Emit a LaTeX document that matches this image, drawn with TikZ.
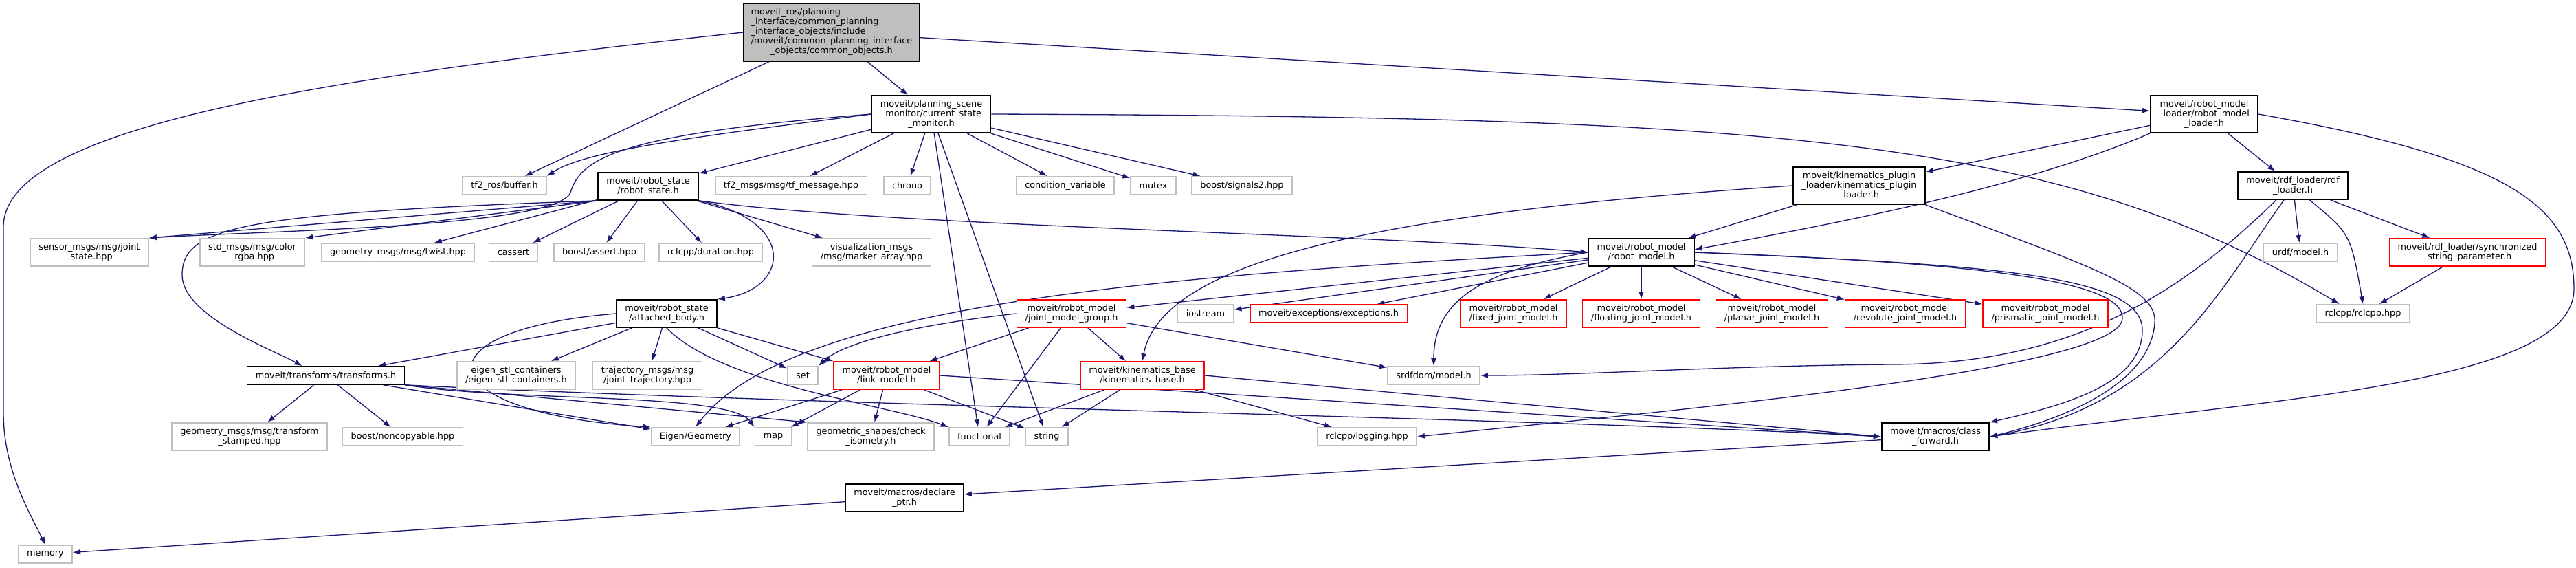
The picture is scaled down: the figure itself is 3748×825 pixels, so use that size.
\documentclass[tikz,border=0pt]{standalone}
\usepackage{fontspec}
\setmainfont{DejaVu Sans}
\usepackage{tikz}
\usetikzlibrary{arrows.meta,calc}
\definecolor{edgeblue}{RGB}{25,25,112}
\definecolor{boxgray}{RGB}{191,191,191}
\definecolor{truncred}{RGB}{255,0,0}
\pgfdeclarelayer{edges}
\pgfsetlayers{edges,main}

\begin{document}
\begin{tikzpicture}[x=0.02cm, y=-0.02cm]
    \tikzstyle{box}=[draw, align=center, inner xsep=7pt, inner ysep=3.8pt, minimum height=14.8pt, font=\fontsize{7.3}{8}\selectfont]
    \tikzstyle{docbox}=[box, draw=black, line width=0.9pt, fill=white]
    \tikzstyle{extbox}=[box, draw=boxgray, line width=1pt, fill=white]
    \tikzstyle{truncbox}=[box, draw=truncred, line width=0.9pt, fill=white]
    \tikzstyle{dep}=[draw=edgeblue, line width=0.75pt, -{Latex[length=6.3pt,width=4.6pt]}]
    \useasboundingbox (0,0) rectangle (3748,825);

    \node[docbox, fill=boxgray, inner xsep=6pt] (root) at (1210,47) {\begin{tabular}{@{}l@{}}moveit\_ros/planning\\\_interface/common\_planning\\\_interface\_objects/include\\/moveit/common\_planning\_interface\\\multicolumn{1}{@{}c@{}}{\_objects/common\_objects.h}\end{tabular}};
    \node[docbox] (csm) at (1355,166) {moveit/planning\_scene\\\_monitor/current\_state\\\_monitor.h};
    \node[docbox] (rml) at (3207,166) {moveit/robot\_model\\\_loader/robot\_model\\\_loader.h};

    \node[extbox] (buffer) at (734,270) {tf2\_ros/buffer.h};
    \node[docbox] (robstate) at (943,271) {moveit/robot\_state\\/robot\_state.h};
    \node[extbox] (tfmsg) at (1151,270) {tf2\_msgs/msg/tf\_message.hpp};
    \node[extbox] (chrono) at (1320,270) {chrono};
    \node[extbox] (condvar) at (1550,270) {condition\_variable};
    \node[extbox] (mutex) at (1678,270) {mutex};
    \node[extbox] (signals) at (1807,270) {boost/signals2.hpp};
    \node[docbox] (kpl) at (2705,270) {moveit/kinematics\_plugin\\\_loader/kinematics\_plugin\\\_loader.h};
    \node[docbox] (rdfl) at (3336,270) {moveit/rdf\_loader/rdf\\\_loader.h};

    \node[extbox] (jointstate) at (130,367) {sensor\_msgs/msg/joint\\\_state.hpp};
    \node[extbox] (colorrgba) at (367,367) {std\_msgs/msg/color\\\_rgba.hpp};
    \node[extbox] (twist) at (579,367) {geometry\_msgs/msg/twist.hpp};
    \node[extbox] (cassert) at (747,367) {cassert};
    \node[extbox] (bassert) at (872,367) {boost/assert.hpp};
    \node[extbox] (duration) at (1034,367) {rclcpp/duration.hpp};
    \node[extbox] (marker) at (1268,367) {visualization\_msgs\\/msg/marker\_array.hpp};
    \node[docbox] (robmodel) at (2388,367) {moveit/robot\_model\\/robot\_model.h};
    \node[extbox] (urdf) at (3347,367) {urdf/model.h};
    \node[truncbox] (sync) at (3590,367) {moveit/rdf\_loader/synchronized\\\_string\_parameter.h};

    \node[docbox] (attached) at (970,456) {moveit/robot\_state\\/attached\_body.h};
    \node[truncbox] (jmg) at (1559,456) {moveit/robot\_model\\/joint\_model\_group.h};
    \node[extbox] (iostream) at (1754,456) {iostream};
    \node[truncbox] (exceptions) at (1933,456) {moveit/exceptions/exceptions.h};
    \node[truncbox] (fixed) at (2202,456) {moveit/robot\_model\\/fixed\_joint\_model.h};
    \node[truncbox] (floating) at (2388,456) {moveit/robot\_model\\/floating\_joint\_model.h};
    \node[truncbox] (planar) at (2578,456) {moveit/robot\_model\\/planar\_joint\_model.h};
    \node[truncbox] (revolute) at (2772,456) {moveit/robot\_model\\/revolute\_joint\_model.h};
    \node[truncbox] (prismatic) at (2976,456) {moveit/robot\_model\\/prismatic\_joint\_model.h};
    \node[extbox] (rclcpp) at (3438,456) {rclcpp/rclcpp.hpp};

    \node[docbox] (transforms) at (474,546) {moveit/transforms/transforms.h};
    \node[extbox] (eigenstl) at (751,546) {eigen\_stl\_containers\\/eigen\_stl\_containers.h};
    \node[extbox] (trajectory) at (942,546) {trajectory\_msgs/msg\\/joint\_trajectory.hpp};
    \node[extbox] (set) at (1168,546) {set};
    \node[truncbox] (linkmodel) at (1290,546) {moveit/robot\_model\\/link\_model.h};
    \node[truncbox] (kinbase) at (1662,546) {moveit/kinematics\_base\\/kinematics\_base.h};
    \node[extbox] (srdf) at (2086,546) {srdfdom/model.h};

    \node[extbox] (stamped) at (363,635) {geometry\_msgs/msg/transform\\\_stamped.hpp};
    \node[extbox] (noncopy) at (586,635) {boost/noncopyable.hpp};
    \node[extbox] (eigengeom) at (1012,635) {Eigen/Geometry};
    \node[extbox] (map) at (1125,635) {map};
    \node[extbox] (checkiso) at (1267,635) {geometric\_shapes/check\\\_isometry.h};
    \node[extbox] (functional) at (1425,635) {functional};
    \node[extbox] (string) at (1523,635) {string};
    \node[extbox] (logging) at (1989,635) {rclcpp/logging.hpp};
    \node[docbox] (classfwd) at (2816,635) {moveit/macros/class\\\_forward.h};

    \node[docbox] (declare) at (1316,724) {moveit/macros/declare\\\_ptr.h};
    \node[extbox] (memory) at (66,806) {memory};

    \begin{pgfonlayer}{edges}
    \draw[dep] (root.west) .. controls (500,110) and (5,180) .. (5,330) -- (5,600) .. controls (5,680) and (40,740) .. (memory.north);
    \draw[dep] (root) -- (buffer);
    \draw[dep] (root) -- (csm);
    \draw[dep] (root) -- (rml);

    \draw[dep] (csm) -- (robstate);
    \draw[dep] (csm.west) .. controls (1000,200) and (850,220) .. (buffer.north east);
    \draw[dep] (csm.west) .. controls (900,195) and (845,230) .. (830,280) .. controls (810,330) and (400,335) .. (jointstate.north east);
    \draw[dep] (csm) -- (tfmsg);
    \draw[dep] (csm) -- (chrono);
    \draw[dep] (csm) -- (condvar);
    \draw[dep] (csm) -- (mutex);
    \draw[dep] (csm) -- (signals);
    \draw[dep] (csm) -- (functional);
    \draw[dep] (csm) -- (string);
    \draw[dep] (csm.east) .. controls (2600,170) and (3000,200) .. ($(rclcpp.north west)!0.25!(rclcpp.north east)$);

    \draw[dep] (robstate.south east) .. controls (1300,330) and (2000,340) .. (robmodel.west);
    \draw[dep] (robstate.south east) .. controls (1160,320) and (1150,420) .. (attached.north east);
    \draw[dep] (robstate.south west) -- (jointstate.north east);
    \draw[dep] (robstate.south west) -- (colorrgba.north east);
    \draw[dep] (robstate) -- (twist);
    \draw[dep] (robstate) -- (cassert);
    \draw[dep] (robstate) -- (bassert);
    \draw[dep] (robstate) -- (duration);
    \draw[dep] (robstate) -- (marker);
    \draw[dep] (robstate.south west) .. controls (350,310) and (265,330) .. (265,400) .. controls (265,460) and (400,510) .. ($(transforms.north west)!0.35!(transforms.north east)$);

    \draw[dep] (attached) -- (transforms);
    \draw[dep] (attached) -- (eigenstl);
    \draw[dep] (attached) -- (trajectory);
    \draw[dep] (attached) -- (set);
    \draw[dep] (attached.south east) -- (linkmodel.north west);
    \draw[dep] (attached.south) .. controls (1050,560) and (1300,590) .. (functional.north west);
    \draw[dep] (attached.west) .. controls (600,480) and (620,600) .. (eigengeom.north west);

    \draw[dep] (transforms) -- (stamped);
    \draw[dep] (transforms) -- (noncopy);
    \draw[dep] (transforms) -- (eigengeom);
    \draw[dep] (transforms.south east) .. controls (750,585) and (1060,570) .. (map.north west);
    \draw[dep] (transforms.south east) -- (checkiso.north west);
    \draw[dep] (transforms.south east) .. controls (1200,590) and (2300,610) .. (classfwd.west);

    \draw[dep] (robmodel.west) .. controls (1700,400) and (1150,440) .. (eigengeom.north);
    \draw[dep] (robmodel) -- (jmg);
    \draw[dep] (robmodel) -- (iostream);
    \draw[dep] (robmodel) -- (exceptions);
    \draw[dep] (robmodel.west) .. controls (2150,395) and (2086,440) .. (srdf.north);
    \draw[dep] (robmodel) -- (fixed);
    \draw[dep] (robmodel) -- (floating);
    \draw[dep] (robmodel) -- (planar);
    \draw[dep] (robmodel) -- (revolute);
    \draw[dep] (robmodel) -- (prismatic);
    \draw[dep] (robmodel.east) .. controls (2900,385) and (3117,400) .. (3117,480) .. controls (3117,560) and (3000,590) .. (classfwd.north east);
    \draw[dep] (robmodel.east) .. controls (2900,383) and (3090,410) .. (3088,463) .. controls (3085,540) and (2400,600) .. (logging.east);

    \draw[dep] (jmg.west) .. controls (1350,470) and (1230,495) .. (set.north east);
    \draw[dep] (jmg) -- (linkmodel);
    \draw[dep] (jmg) -- (functional);
    \draw[dep] (jmg) -- (kinbase);
    \draw[dep] (jmg) -- (srdf);

    \draw[dep] (linkmodel) -- (eigengeom);
    \draw[dep] (linkmodel) -- (map);
    \draw[dep] (linkmodel) -- (checkiso);
    \draw[dep] (linkmodel) -- (string);
    \draw[dep] (linkmodel.east) -- (classfwd.west);

    \draw[dep] (kinbase) -- (functional);
    \draw[dep] (kinbase) -- (string);
    \draw[dep] (kinbase) -- (logging);
    \draw[dep] (kinbase.east) -- (classfwd.west);

    \draw[dep] (rml.south west) .. controls (2950,270) and (2700,320) .. ($(robmodel.north east)!0.4!(robmodel.south east)$);
    \draw[dep] (rml) -- (kpl);
    \draw[dep] (rml) -- (rdfl);
    \draw[dep] (rml.east) .. controls (3650,230) and (3745,300) .. (3745,420) .. controls (3745,560) and (3300,580) .. (classfwd.east);

    \draw[dep] (kpl) -- (robmodel);
    \draw[dep] (kpl.west) .. controls (2000,310) and (1690,380) .. (kinbase.north);
    \draw[dep] (kpl.south east) .. controls (3050,390) and (3140,420) .. (3135,470) .. controls (3128,560) and (3000,610) .. (classfwd.east);

    \draw[dep] (rdfl) -- (urdf);
    \draw[dep] (rdfl) -- (sync);
    \draw[dep] ($(rdfl.south)!0.3!(rdfl.south east)$) .. controls (3420,340) .. (rclcpp.north);
    \draw[dep] ($(rdfl.south west)!0.35!(rdfl.south east)$) .. controls (3160,440) and (3000,530) .. (2750,530) .. controls (2500,532) and (2300,546) .. (srdf.east);
    \draw[dep] ($(rdfl.south west)!0.42!(rdfl.south east)$) .. controls (3230,420) and (3150,590) .. (classfwd.east);
    \draw[dep] (sync) -- (rclcpp);

    \draw[dep] (classfwd) -- (declare);
    \draw[dep] (declare) -- (memory);
    \end{pgfonlayer}
\end{tikzpicture}
\end{document}
